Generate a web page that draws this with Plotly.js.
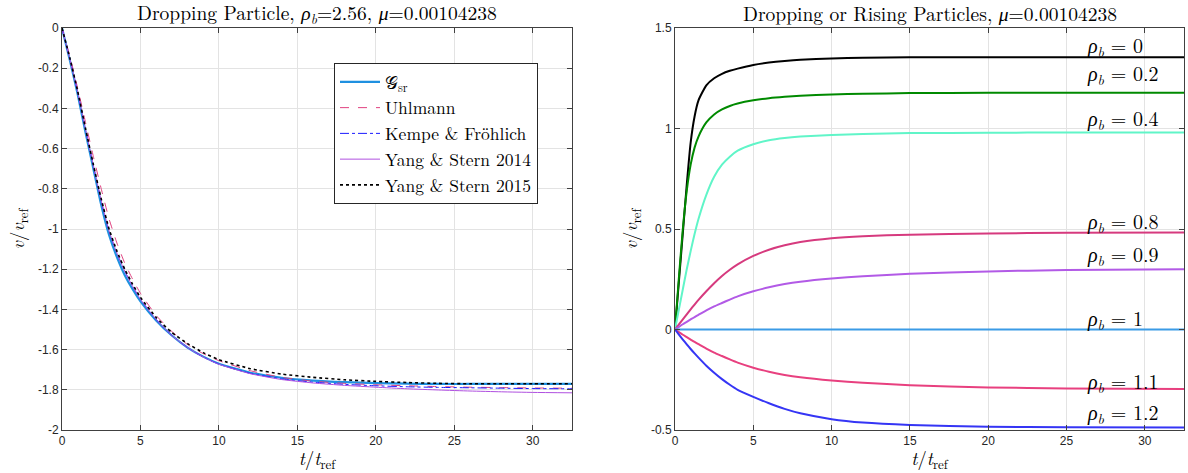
<!DOCTYPE html>
<html>
<head>
<meta charset="utf-8">
<script src="https://cdn.plot.ly/plotly-3.0.1.min.js"></script>
<style>html,body{margin:0;padding:0;background:#fff;}#chart{width:1188px;height:473px;}</style>
</head>
<body>
<div id="chart"></div>
<script>
// ---------- Left panel data ----------
const tLeft = [0,0.5,1,1.5,2,2.5,3,3.5,4,4.5,5,6,7,8,9,10,12,14,16,18,20,22,24,26,28,30,32.5];
const vGsr     = [0,-0.16,-0.33,-0.52,-0.70,-0.88,-1.03,-1.14,-1.23,-1.30,-1.36,-1.455,-1.53,-1.59,-1.635,-1.67,-1.715,-1.740,-1.754,-1.762,-1.767,-1.769,-1.771,-1.771,-1.771,-1.771,-1.771];
const vUhlmann = [0,-0.14,-0.30,-0.47,-0.64,-0.80,-0.95,-1.07,-1.17,-1.25,-1.32,-1.43,-1.51,-1.575,-1.62,-1.655,-1.705,-1.738,-1.757,-1.768,-1.775,-1.780,-1.784,-1.787,-1.789,-1.791,-1.792];
const vKempe   = [0,-0.155,-0.32,-0.505,-0.685,-0.86,-1.01,-1.12,-1.21,-1.285,-1.35,-1.45,-1.53,-1.59,-1.637,-1.672,-1.718,-1.746,-1.762,-1.773,-1.780,-1.785,-1.788,-1.790,-1.792,-1.794,-1.795];
const vYang14  = [0,-0.155,-0.32,-0.505,-0.685,-0.86,-1.01,-1.12,-1.21,-1.285,-1.35,-1.45,-1.53,-1.59,-1.637,-1.673,-1.720,-1.749,-1.766,-1.778,-1.787,-1.795,-1.801,-1.806,-1.810,-1.813,-1.815];
const vYang15  = [0,-0.15,-0.315,-0.50,-0.68,-0.85,-1.00,-1.11,-1.20,-1.275,-1.34,-1.44,-1.515,-1.57,-1.615,-1.65,-1.695,-1.722,-1.738,-1.750,-1.758,-1.764,-1.768,-1.770,-1.770,-1.770,-1.770];
const leftNames = ["𝒢<sub>sr</sub>","Uhlmann","Kempe &amp; Fröhlich","Yang &amp; Stern 2014","Yang &amp; Stern 2015"];

// ---------- Right panel data ----------
const tRight = [0,0.25,0.5,0.75,1,1.25,1.5,2,2.5,3,3.5,4,5,6,7,8,10,12,15,20,25,32.5];
const rho00 = [0,0.24,0.48,0.72,0.93,1.06,1.14,1.215,1.25,1.272,1.287,1.298,1.316,1.328,1.336,1.342,1.348,1.352,1.354,1.355,1.355,1.355];
const rho02 = [0,0.26,0.50,0.69,0.82,0.905,0.96,1.03,1.07,1.095,1.112,1.124,1.14,1.151,1.158,1.163,1.169,1.173,1.176,1.178,1.178,1.178];
const rho04 = [0,0.10,0.20,0.30,0.39,0.475,0.55,0.67,0.76,0.82,0.86,0.89,0.922,0.942,0.953,0.96,0.968,0.973,0.977,0.979,0.98,0.98];
const rho08 = [0,0.025,0.05,0.075,0.10,0.124,0.147,0.19,0.23,0.266,0.297,0.324,0.366,0.397,0.419,0.435,0.454,0.464,0.472,0.478,0.481,0.483];
const rho09 = [0,0.013,0.026,0.038,0.05,0.062,0.073,0.095,0.115,0.132,0.149,0.165,0.19,0.21,0.226,0.238,0.254,0.265,0.277,0.289,0.296,0.30];
const rho10 = [0,0,0,0,0,0,0,0,0,0,0,0,0,0,0,0,0,0,0,0,0,0];
const rho11 = [0,-0.013,-0.026,-0.038,-0.05,-0.062,-0.073,-0.095,-0.115,-0.132,-0.149,-0.165,-0.19,-0.21,-0.226,-0.238,-0.254,-0.265,-0.277,-0.288,-0.293,-0.296];
const rho12 = [0,-0.025,-0.05,-0.074,-0.097,-0.119,-0.14,-0.18,-0.215,-0.247,-0.275,-0.30,-0.335,-0.367,-0.395,-0.417,-0.446,-0.463,-0.475,-0.484,-0.486,-0.487];
const rhoLabels = ["0","0.2","0.4","0.8","0.9","1","1.1","1.2"];
const rhoLabelY = [1.415,1.276,1.052,0.535,0.371,0.057,-0.261,-0.415];

// ---------- Tick labels ----------
const leftTickVals = [0,-0.2,-0.4,-0.6,-0.8,-1,-1.2,-1.4,-1.6,-1.8,-2];
const leftTickText = ["0","-0.2","-0.4","-0.6","-0.8","-1","-1.2","-1.4","-1.6","-1.8","-2"];
const rightTickVals = [-0.5,0,0.5,1,1.5];
const rightTickText = ["-0.5","0","0.5","1","1.5"];
const xTickVals = [0,5,10,15,20,25,30];

const serif = "'Latin Modern Roman','CMU Serif','Liberation Serif','DejaVu Serif',serif";
const sans = "'Liberation Sans',Arial,Helvetica,sans-serif";
const axisCol = "#404040";

const traces = [];
const leftSeries = [vGsr, vUhlmann, vKempe, vYang14, vYang15];
const leftStyles = [
  {color:"#1f90e0", width:2.2, dash:"solid"},
  {color:"#e0407f", width:1, dash:"dash"},
  {color:"#1a1aff", width:1, dash:"dashdot"},
  {color:"#b050e0", width:1, dash:"solid"},
  {color:"#000000", width:1.6, dash:"dot"}
];
leftSeries.forEach((v,i)=>{
  traces.push({x:tLeft, y:v, xaxis:"x", yaxis:"y", type:"scatter", mode:"lines",
    name:leftNames[i], line:Object.assign({shape:"spline", smoothing:0.5}, leftStyles[i]), showlegend:true});
});

const rightSeries = [rho00, rho02, rho04, rho08, rho09, rho10, rho11, rho12];
const rightColors = ["#000000","#008a00","#60f5c8","#d63a7e","#b25ae6","#3b9be6","#e8407f","#3535f5"];
rightSeries.forEach((v,i)=>{
  traces.push({x:tRight, y:v, xaxis:"x2", yaxis:"y2", type:"scatter", mode:"lines",
    line:{color:rightColors[i], width:2, shape:"spline", smoothing:0.5}, showlegend:false, hoverinfo:"skip"});
});

const annotations = [
  {text:"Dropping Particle, <i>ρ<sub>b</sub></i>=2.56, <i>μ</i>=0.00104238", xref:"paper", yref:"paper",
   x:(62+572)/2/1188, y:1-13/473, xanchor:"center", yanchor:"middle", showarrow:false, font:{family:serif, size:19.5, color:"#000"}},
  {text:"Dropping or Rising Particles, <i>μ</i>=0.00104238", xref:"paper", yref:"paper",
   x:(675+1184)/2/1188, y:1-13/473, xanchor:"center", yanchor:"middle", showarrow:false, font:{family:serif, size:19.5, color:"#000"}}
];
rhoLabels.forEach((lab,i)=>{
  annotations.push({text:"<i>ρ<sub>b</sub></i> = "+lab, xref:"x2", yref:"y2", x:26.2, y:rhoLabelY[i],
    xanchor:"left", yanchor:"middle", showarrow:false, font:{family:serif, size:20, color:"#000"}});
});

function xax(domain, anchor){
  return {domain:domain, anchor:anchor, range:[0,32.5], tickvals:xTickVals, ticks:"inside", ticklen:5, tickcolor:axisCol,
    showline:true, linecolor:axisCol, linewidth:1, mirror:"ticks", showgrid:true, gridcolor:"#e3e3e3", zeroline:false,
    tickfont:{family:sans, size:12, color:"#262626"},
    title:{text:"<i>t</i>/<i>t</i><sub>ref</sub>", font:{family:serif, size:18.5, color:"#000"}, standoff:4}};
}
function yax(domain, anchor, range, tv, tt){
  return {domain:domain, anchor:anchor, range:range, tickvals:tv, ticktext:tt, ticks:"inside", ticklen:5, tickcolor:axisCol,
    showline:true, linecolor:axisCol, linewidth:1, mirror:"ticks", showgrid:true, gridcolor:"#e3e3e3", zeroline:false,
    tickfont:{family:sans, size:12, color:"#262626"},
    title:{text:"<i>v</i>/<i>v</i><sub>ref</sub>", font:{family:serif, size:18.5, color:"#000"}, standoff:8}};
}

const yDom = [1-430/473, 1-28/473];
const layout = {
  width:1188, height:473, margin:{l:0,r:0,t:0,b:0}, paper_bgcolor:"#fff", plot_bgcolor:"#fff",
  xaxis: xax([62/1188, 572/1188], "y"),
  yaxis: yax(yDom, "x", [-2,0], leftTickVals, leftTickText),
  xaxis2: xax([675/1188, 1184/1188], "y2"),
  yaxis2: yax(yDom, "x2", [-0.5,1.5], rightTickVals, rightTickText),
  showlegend:true,
  legend:{x:334/1188, y:1-63/473, xanchor:"left", yanchor:"top", bgcolor:"#fff", bordercolor:"#262626", borderwidth:1,
    font:{family:serif, size:17.5, color:"#000"}, tracegroupgap:0, itemwidth:40},
  annotations:annotations
};
Plotly.newPlot("chart", traces, layout, {staticPlot:true, displayModeBar:false});
</script>
</body>
</html>
